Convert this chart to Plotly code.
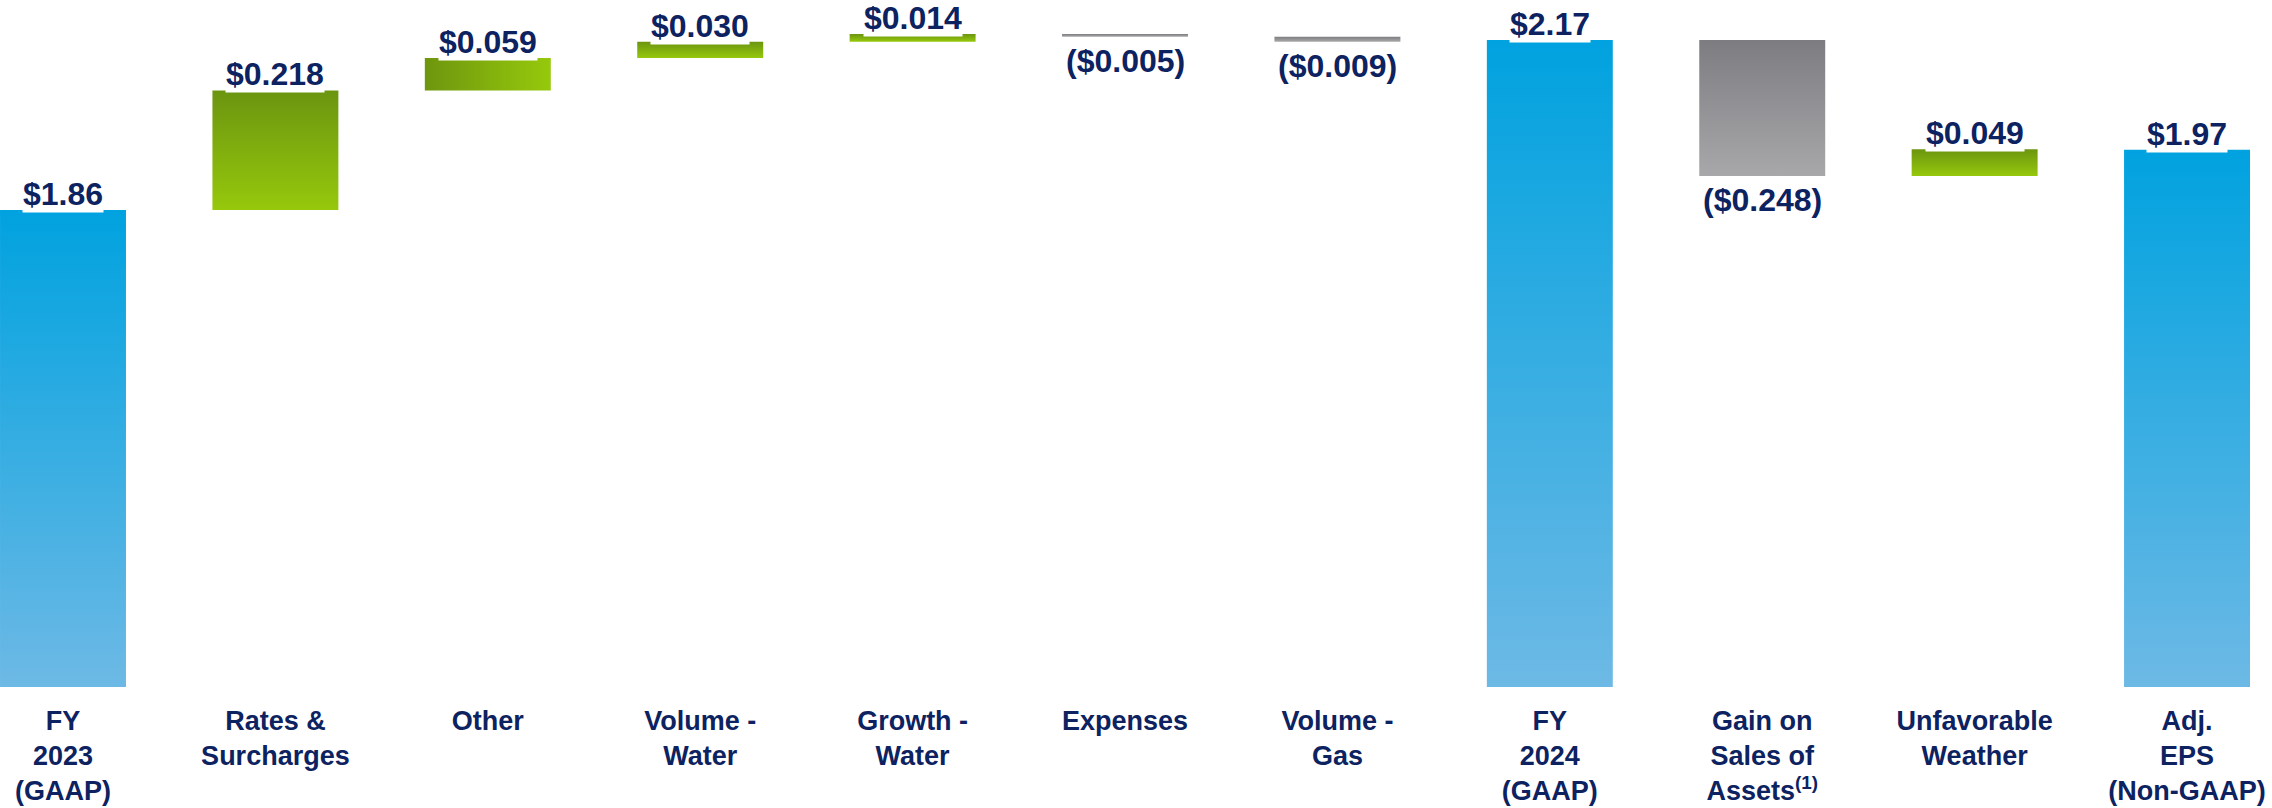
import plotly.graph_objects as go

categories = ["FY<br>2023<br>(GAAP)", "Rates &<br>Surcharges", "Other", "Volume -<br>Water",
              "Growth -<br>Water", "Expenses", "Volume -<br>Gas", "FY<br>2024<br>(GAAP)",
              "Gain on<br>Sales of<br>Assets<sup>(1)</sup>", "Unfavorable<br>Weather",
              "Adj.<br>EPS<br>(Non-GAAP)"]
values = [1.86, 0.218, 0.059, 0.030, 0.014, -0.005, -0.009, 2.17, -0.248, 0.049, 1.97]
measures = ["total", "relative", "relative", "relative", "relative", "relative", "relative",
            "total", "relative", "relative", "total"]
value_labels = ["$1.86", "$0.218", "$0.059", "$0.030", "$0.014", "($0.005)", "($0.009)",
                "$2.17", "($0.248)", "$0.049", "$1.97"]

# styles
Y_FLOOR = 0.99
Y_TOP = 2.243
X_RANGE = [-0.2966, 10.400]
BAR_W = 0.593
NAVY = "#0D2260"
BLUE = [[0, "#6DB9E5"], [1, "#00A2DF"]]
GREEN = [[0, "#96C80C"], [1, "#6B9510"]]
GREEN_H = [[0, "#6E960E"], [1, "#96C90C"]]
GREY = [[0, "#A8A8AA"], [1, "#7D7C81"]]
styles = [("vertical", BLUE), ("vertical", GREEN), ("horizontal", GREEN_H), ("vertical", GREEN),
          ("vertical", GREEN), ("vertical", GREY), ("vertical", GREY), ("vertical", BLUE),
          ("vertical", GREY), ("vertical", GREEN), ("vertical", BLUE)]
FONT = "Liberation Sans, Arial"

fig = go.Figure()
running = 0.0
annotations = []
for i, (v, m) in enumerate(zip(values, measures)):
    if m == "total":
        lo, hi = Y_FLOOR, v
        running = v
        label_y, positive = hi, True
    else:
        start = running
        running = running + v
        lo, hi = min(start, running), max(start, running)
        positive = v >= 0
        label_y = hi if positive else lo
    x0, x1 = i - BAR_W / 2, i + BAR_W / 2
    orient, cs = styles[i]
    fig.add_trace(go.Scatter(
        x=[x0, x1, x1, x0, x0], y=[lo, lo, hi, hi, lo],
        mode="lines", fill="toself", line=dict(width=0),
        fillgradient=dict(type=orient, colorscale=cs),
        hoverinfo="skip", showlegend=False,
    ))
    annotations.append(dict(
        x=i, y=label_y, xref="x", yref="y", text=value_labels[i], showarrow=False,
        yanchor="bottom" if positive else "top", yshift=-3 if positive else -5,
        bgcolor="white" if positive else "rgba(0,0,0,0)", borderpad=0,
        font=dict(family=FONT, size=32, color=NAVY, weight=700),
    ))

fig.update_layout(
    width=2272, height=808,
    margin=dict(l=0, r=0, t=0, b=121),
    paper_bgcolor="white", plot_bgcolor="white",
    annotations=annotations,
    xaxis=dict(range=X_RANGE, tickmode="array", tickvals=list(range(len(categories))),
               ticktext=categories, showgrid=False, zeroline=False, showline=False, ticks="",
               ticklabelstandoff=15,
               tickfont=dict(family=FONT, size=27, color=NAVY, weight=700)),
    yaxis=dict(range=[Y_FLOOR, Y_TOP], showticklabels=False, showgrid=False, zeroline=False,
               showline=False),
)
fig.write_html("out.html", config={"displayModeBar": False},
               post_script="document.body.style.margin='0';document.body.style.overflow='hidden';")
